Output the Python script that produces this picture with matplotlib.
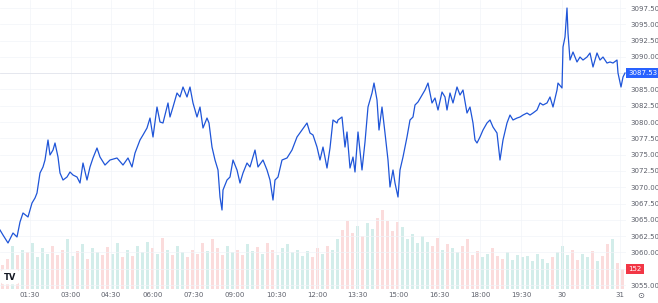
import numpy as np
import matplotlib.pyplot as plt
from matplotlib.transforms import blended_transform_factory

# posiciones de las barras (indice de barra) y precio de cierre
barra = np.array([0, 3, 8, 13, 17, 20, 23, 28, 32, 35, 37, 40, 43, 45, 48, 50, 53, 55, 58, 60,
                  63, 67, 70, 73, 77, 80, 83, 87, 90, 93, 97, 100, 105, 110, 117, 123, 128, 132, 135, 140,
                  143, 147, 150, 153, 157, 160, 163, 168, 170, 173, 177, 180, 183, 187, 190, 193, 197, 200, 203, 207,
                  209, 212, 215, 218, 220, 222, 223, 227, 230, 233, 237, 240, 243, 247, 250, 255, 258, 263, 267, 270,
                  273, 275, 278, 282, 287, 292, 297, 302, 307, 310, 313, 317, 320, 323, 327, 330, 333, 337, 338, 342,
                  345, 347, 350, 353, 355, 358, 362, 365, 368, 372, 374, 377, 379, 382, 385, 388, 390, 393, 395, 398,
                  400, 403, 407, 410, 413, 415, 418, 422, 425, 428, 432, 435, 438, 442, 445, 447, 450, 453, 457, 460,
                  463, 467, 470, 473, 475, 477, 480, 483, 487, 490, 493, 497, 500, 503, 507, 510, 513, 517, 520, 523,
                  527, 530, 533, 537, 540, 543, 547, 550, 553, 557, 558, 562, 563, 565, 567, 568, 570, 573, 577, 580,
                  583, 587, 590, 593, 597, 600, 603, 607, 610, 613, 617, 618, 621, 623, 625])
precio = np.array([3063.44, 3062.67, 3061.45, 3062.98, 3062.37, 3064.67, 3066.05, 3065.44, 3067.58, 3068.35,
                   3069.12, 3072.19, 3073.11, 3074.18, 3077.25, 3074.95, 3075.71, 3076.79, 3074.64, 3072.19,
                   3071.11, 3071.57, 3072.34, 3071.88, 3071.57, 3070.65, 3073.72, 3071.11, 3073.11, 3074.49,
                   3076.02, 3074.64, 3073.41, 3074.18, 3074.49, 3073.41, 3074.49, 3073.11, 3075.25, 3077.25,
                   3078.02, 3079.09, 3080.62, 3077.71, 3082.31, 3080.01, 3079.86, 3082.93, 3080.78, 3082.31,
                   3084.46, 3083.85, 3085.38, 3083.85, 3085.38, 3082.93, 3080.78, 3082.31, 3079.09, 3080.62,
                   3079.86, 3076.17, 3074.18, 3072.65, 3068.50, 3066.51, 3069.58, 3071.11, 3071.57, 3074.18,
                   3072.65, 3070.65, 3072.19, 3073.72, 3073.11, 3075.71, 3073.11, 3074.18, 3072.65, 3071.11,
                   3068.04, 3071.11, 3071.57, 3074.18, 3074.49, 3075.71, 3077.71, 3078.78, 3079.86, 3078.32,
                   3078.02, 3076.17, 3074.18, 3076.17, 3072.95, 3076.02, 3080.32, 3079.86, 3080.32, 3080.78,
                   3076.17, 3078.48, 3072.95, 3074.64, 3072.34, 3078.48, 3072.65, 3076.94, 3082.31, 3084.46,
                   3085.99, 3083.39, 3078.78, 3082.31, 3078.32, 3074.18, 3070.04, 3072.65, 3070.65, 3068.50,
                   3072.65, 3074.64, 3077.71, 3080.32, 3080.78, 3082.62, 3083.08, 3084.15, 3084.92, 3085.99,
                   3082.93, 3083.69, 3081.85, 3084.61, 3083.85, 3081.85, 3084.46, 3082.93, 3085.38, 3084.15,
                   3084.92, 3081.39, 3082.31, 3079.86, 3077.25, 3076.79, 3077.71, 3078.78, 3079.86, 3080.32,
                   3079.24, 3078.32, 3074.18, 3077.25, 3079.86, 3081.08, 3080.32, 3080.62, 3080.78, 3081.08,
                   3081.39, 3081.08, 3081.39, 3081.85, 3082.93, 3082.62, 3082.93, 3083.85, 3082.31, 3084.92,
                   3085.99, 3085.23, 3091.52, 3093.05, 3097.50, 3093.66, 3089.52, 3090.75, 3089.22, 3089.98,
                   3089.52, 3089.98, 3090.60, 3088.45, 3090.60, 3089.52, 3089.98, 3089.06, 3089.22, 3089.06,
                   3089.52, 3087.53, 3085.38, 3086.91, 3087.53])

# volumen (un valor cada 5 barras)
volumen = [180, 230, 330, 260, 300, 280, 350, 240, 310, 270, 330, 260, 300, 380, 250,
           290, 340, 230, 310, 280, 260, 320, 270, 350, 240, 300, 250, 330, 280, 360,
           310, 270, 390, 300, 260, 330, 280, 240, 300, 270, 350, 290, 380, 310, 260,
           330, 280, 300, 260, 340, 290, 320, 270, 350, 300, 260, 310, 340, 280, 300,
           250, 290, 240, 310, 270, 330, 300, 380, 450, 520, 430, 480, 400, 500, 460,
           540, 600, 520, 440, 510, 470, 380, 420, 350, 400, 360, 330, 390, 300, 340,
           310, 280, 330, 380, 260, 290, 240, 270, 310, 250, 230, 280, 220, 260, 240,
           250, 210, 270, 230, 200, 240, 280, 330, 260, 300, 220, 270, 240, 290, 210,
           250, 340, 380, 200, 152]

ticks_x = [30, 71, 111, 153, 194, 235, 276, 317, 357, 398, 439, 480, 521, 562, 620]
etiquetas_x = ["01:30", "03:00", "04:30", "06:00", "07:30", "09:00", "10:30", "12:00",
               "13:30", "15:00", "16:30", "18:00", "19:30", "30", "31"]
ticks_y = [3055.0, 3057.5, 3060.0, 3062.5, 3065.0, 3067.5, 3070.0, 3072.5, 3075.0, 3077.5,
           3080.0, 3082.5, 3085.0, 3090.0, 3092.5, 3095.0, 3097.5]
ultimo_precio = 3087.53
ultimo_volumen = 152

gris = "#5d606b"
azul = "#1f55d8"

fig = plt.figure(figsize=(6.58, 3.03), dpi=100)
pos = [0, 14 / 303, 626 / 658, 289 / 303]

# =============================
# VOLUMEN
# =============================
axv = fig.add_axes(pos)
xv = 2.5 + 5 * np.arange(len(volumen))
p_ref = np.interp(xv, barra, precio)
p_ant = np.interp(xv - 5, barra, precio)
colores = np.where(p_ref >= p_ant, "#26a69a", "#ef5350")
axv.bar(xv, volumen, width=3.2, color=colores, alpha=0.2, linewidth=0)
axv.set_xlim(0, 626)
axv.set_ylim(0, 2200)
axv.axis("off")

# =============================
# PRECIO
# =============================
ax = fig.add_axes(pos)
ax.set_facecolor("none")
ax.plot(barra, precio, color=azul, lw=0.9, zorder=3)
ax.axhline(ultimo_precio, color="#e0e3eb", lw=0.6, zorder=2)

ax.set_xlim(0, 626)
ax.set_ylim(3054.39, 3098.73)
ax.set_xticks(ticks_x)
ax.set_xticklabels(etiquetas_x)
ax.yaxis.tick_right()
ax.set_yticks(ticks_y)
# la etiqueta de 3057.50 queda bajo el recuadro del volumen
ax.set_yticklabels(["" if v == 3057.5 else f"{v:.2f}" for v in ticks_y])
ax.tick_params(axis="x", length=0, pad=2.5, labelsize=5, labelcolor=gris)
ax.tick_params(axis="y", length=0, pad=3, labelsize=5, labelcolor=gris)
ax.grid(True, color="#f2f4f8", lw=0.5)
for s in ax.spines.values():
    s.set_visible(False)

tr = blended_transform_factory(ax.transAxes, ax.transData)
ax.text(1.004, ultimo_precio, f"{ultimo_precio:.2f}", transform=tr, color="white", fontsize=5,
        va="center", ha="left", zorder=10,
        bbox=dict(boxstyle="square,pad=0.3", fc="#2962ff", ec="none"))
ax.text(1.004, 3057.5, f"{ultimo_volumen}", transform=tr, color="white", fontsize=5,
        va="center", ha="left", zorder=10,
        bbox=dict(boxstyle="square,pad=0.3", fc="#f23645", ec="none"))

fig.text(10 / 658, 1 - 277 / 303, "TV", fontsize=6, fontweight="bold", color="#131722",
         ha="center", va="center",
         bbox=dict(boxstyle="round,pad=0.35", fc="white", ec="none"))
fig.text(641 / 658, 1 - 295 / 303, "⊙", fontsize=6, color=gris, ha="center", va="center")

plt.savefig("out.png", dpi=100)
